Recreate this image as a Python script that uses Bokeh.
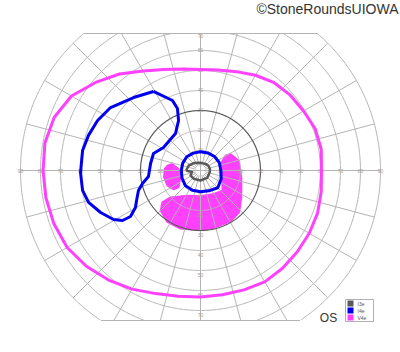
import numpy as np
from bokeh.plotting import figure
from bokeh.core.properties import value
from bokeh.embed import file_html
from bokeh.resources import INLINE

# ---------------- data ----------------
ring_radii = [10, 20, 40, 50, 60, 70, 80, 90]      # light grid circles (deg)
dark_ring = [30]                                    # darker 30 deg circle
spoke_angles = list(range(0, 360, 15))              # meridians (deg)
top_limit = 68.5                                    # chart is cut at top (deg)
bottom_limit = -75.0                                # chart is cut at bottom (deg)
h_labels = [10, 20, 30, 40, 50, 60, 70, 80, 90]
v_labels_up = [10, 20, 30, 40, 50, 60, 70]
v_labels_down = [10, 20, 30, 40, 50, 60, 70]

# V4e isopter (meridian deg, eccentricity deg)
v4e_ang = [0, 10, 20, 30, 40, 50, 60, 70, 80, 90, 100, 110, 120, 130, 140, 150, 160, 170,
           180, 190, 200, 210, 220, 230, 240, 250, 260, 270, 280, 290, 300, 310, 320, 330, 340, 350]
v4e_ecc = [60.5, 61.3, 61, 59.5, 58.6, 57.3, 55, 52.6, 51, 50.5, 51.5, 53.8, 57.5, 63, 68.5, 74.5, 77.8, 79,
           78.7, 78.5, 78, 77, 74.5, 71.5, 68.5, 65.5, 63.8, 63.2, 63.1, 63.5, 64.3, 63.8, 63.2, 62.8, 62.3, 61.3]

# I4e peripheral isopter path
i4e_ang = [120.8, 111.8, 110.4, 113.7, 124.1, 148.1, 160.1, 172.0, 186.6, 192.6,
           197.9, 205.1, 209.6, 213.3, 212.7, 209.4, 202.8, 195.9, 189.6, 181.0,
           170.4, 162.6, 154.1, 145.0, 132.5]
i4e_ecc = [46.0, 37.7, 33.1, 27.3, 22.3, 21.8, 25.0, 25.2, 26.2, 29.7,
           32.6, 35.3, 37.4, 41.9, 46.3, 49.9, 54.2, 58.2, 59.8, 60.0,
           59.8, 58.7, 57.2, 54.9, 49.5]

# I4e central isopter
i4c_ang = [0, 22.5, 45, 67.5, 90, 112.5, 135, 157.5, 180, 202.5, 225, 247.5, 270, 292.5, 315, 337.5]
i4c_ecc = [10.2, 10.2, 9.9, 9.5, 9.4, 9.4, 9.7, 9.6, 9.6, 10.0, 10.7, 10.7, 10.6, 11.0, 12.2, 11.2]

# I3e isopter
i3e_ang = [180, 157, 132, 105, 77, 50, 33, 10, 350, 312, 270, 231, 207, 190]
i3e_ecc = [7.2, 6.4, 5.0, 4.0, 3.8, 4.2, 4.6, 4.8, 4.7, 5.0, 5.0, 5.3, 5.6, 4.3]

# V4e scotomas (filled)
sc1_ang = [171.5, 166.7, 175.5, 198.5, 217.6, 215.4, 204.2, 190.3, 177.3]
sc1_ecc = [16.8, 14.5, 10.9, 10.5, 13.7, 16.4, 18.3, 18.65, 18.0]
sc2_ang = [29.1, 14.6, 350.7, 326.9, 313.1, 300.5, 283, 270, 251, 237.2, 225,
           219.6, 221.7, 242, 270, 299.7, 317.3, 335.3, 0, 21.6, 31]
sc2_ecc = [17.2, 19.8, 20.8, 24.5, 28.5, 29.6, 29.5, 30, 30.8, 30.7, 28.3,
           24.9, 20.1, 14.2, 12.75, 13.4, 14.8, 11.9, 11.0, 11.3, 14.6]

legend_labels = ["I3e", "I4e", "V4e"]
legend_colors = ["#5a5a5a", "#0000ee", "#ff40ff"]

# ---------------- helpers ----------------
def polar(ang, ecc, close=True):
    a = np.radians(np.array(ang, dtype=float))
    e = np.array(ecc, dtype=float)
    x = list(e * np.cos(a))
    y = list(e * np.sin(a))
    if close:
        x.append(x[0]); y.append(y[0])
    return x, y

def ring_arcs(r):
    t = np.radians(np.linspace(0, 360, 721))
    x = r * np.cos(t); y = r * np.sin(t)
    inside = (y <= top_limit + 1e-9) & (y >= bottom_limit - 1e-9)
    arcs = []
    cur_x, cur_y = [], []
    for xi, yi, ok in zip(x, y, inside):
        if ok:
            cur_x.append(xi); cur_y.append(yi)
        else:
            if len(cur_x) > 1:
                arcs.append((cur_x, cur_y))
            cur_x, cur_y = [], []
    if len(cur_x) > 1:
        arcs.append((cur_x, cur_y))
    if len(arcs) > 1 and inside[0] and inside[-1]:
        first = arcs.pop(0)
        last = arcs.pop(-1)
        arcs.append((last[0] + first[0], last[1] + first[1]))
    return arcs

# ---------------- figure ----------------
p = figure(width=400, height=352, x_range=(-100, 100), y_range=(-91, 85),
           output_backend="svg", toolbar_location=None,
           x_axis_type=None, y_axis_type=None, min_border=0)
p.outline_line_color = None
p.grid.visible = False
p.background_fill_color = "white"
p.border_fill_color = "white"

# scotomas under the grid
for ang, ecc in [(sc1_ang, sc1_ecc), (sc2_ang, sc2_ecc)]:
    sx, sy = polar(ang, ecc)
    p.patch(sx, sy, fill_color="#ff40ff", line_color="#ff40ff", line_width=1.5,
            line_join="round")

# grid circles
gx, gy = [], []
for r in ring_radii:
    for ax_, ay_ in ring_arcs(r):
        gx.append(ax_); gy.append(ay_)
# spokes
Rmax = max(ring_radii)
for a in spoke_angles:
    s = np.sin(np.radians(a)); c = np.cos(np.radians(a))
    rend = Rmax
    if s > 1e-9:
        rend = min(rend, top_limit / s)
    if s < -1e-9:
        rend = min(rend, -bottom_limit / -s)
    r0 = 0 if a % 90 == 0 else 2.5
    gx.append([r0 * c, rend * c]); gy.append([r0 * s, rend * s])
# top and bottom borders
xt = np.sqrt(Rmax**2 - top_limit**2)
xb = np.sqrt(Rmax**2 - bottom_limit**2)
gx.append([-xt, xt]); gy.append([top_limit, top_limit])
gx.append([-xb, xb]); gy.append([bottom_limit, bottom_limit])
p.multi_line(gx, gy, line_color="#b4b4b4", line_width=1)

dx_, dy_ = [], []
for r in dark_ring:
    for ax_, ay_ in ring_arcs(r):
        dx_.append(ax_); dy_.append(ay_)
p.multi_line(dx_, dy_, line_color="#5a5a5a", line_width=1.2)

# grid labels
lx, ly, lt = [], [], []
for v in h_labels:
    lx += [-v, v]; ly += [0, 0]; lt += [str(v), str(v)]
for v in v_labels_up:
    lx.append(0); ly.append(min(v + 0.5, top_limit - 1.2)); lt.append(str(v))
for v in v_labels_down:
    lx.append(0); ly.append(-v - 2); lt.append(str(v))
p.text(lx, ly, text=lt, text_font=value("Liberation Sans"), text_font_size="5px",
       text_color="#a0a0a0", text_align="center", text_baseline="middle")

# isopters
x, y = polar(v4e_ang, v4e_ecc)
p.line(x, y, line_color="#ff40ff", line_width=3, line_join="round")
x, y = polar(i4e_ang, i4e_ecc)
p.line(x, y, line_color="#0000ee", line_width=3, line_join="round")
x, y = polar(i4c_ang, i4c_ecc)
p.line(x, y, line_color="#0000ee", line_width=3, line_join="round")
x, y = polar(i3e_ang, i3e_ecc)
p.line(x, y, line_color="#5a5a5a", line_width=2.5, line_join="round")

# legend box (drawn in plot units: 1 deg = 2 px)
p.rect([79.5], [-70], width=14, height=11, fill_color="white", line_color="#b0b0b0", line_width=1)
ly_rows = [-66.5, -70, -73.5]
p.rect([75] * 3, ly_rows, width=3, height=3, fill_color=legend_colors, line_color=None)
p.text([78.5] * 3, ly_rows, text=legend_labels, text_font=value("Liberation Sans"),
       text_font_size="5px", text_color="#555555", text_baseline="middle")

p.text([64], [-73.5], text=["OS"], text_font=value("Liberation Sans"), text_font_size="12px",
       text_color="#333333", text_align="center", text_baseline="middle")

p.text([99], [81], text=["©StoneRoundsUIOWA"], text_font=value("Liberation Sans"),
       text_font_size="14px", text_color="#333333", text_align="right", text_baseline="middle")

open("out.html", "w").write(file_html(p, INLINE))
